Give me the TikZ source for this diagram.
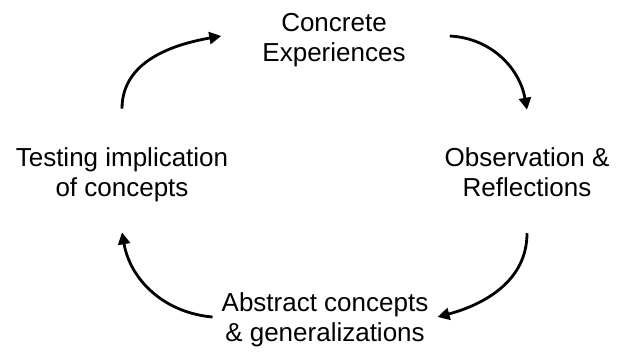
\documentclass[tikz,border=0pt]{standalone}
\usepackage{fontspec}
\setmainfont{Liberation Sans}
\usetikzlibrary{arrows.meta}

\begin{document}
\begin{tikzpicture}[x=1pt,y=1pt,
		phase/.style={align=center,inner sep=0pt,font=\fontsize{26}{30}\selectfont},
		cyc/.style={-{Triangle[length=12pt,width=12pt]},line width=2.8pt}]
		\useasboundingbox (0,0) rectangle (617,356);
		\node [phase] (conc) at (334,316) {Concrete\\Experiences};
		\node [phase] (obs) at (527,183.5) {Observation \&\\Reflections};
		\node [phase] (abs) at (325,36) {Abstract concepts\\\& generalizations};
		\node [phase] (test) at (122,181) {Testing implication\\of concepts};
		\draw[cyc] ([yshift=39pt]test.north) to [out=90,in=190] ([xshift=-41pt,yshift=4pt]conc.west);
		\draw[cyc] ([xshift=44pt,yshift=4pt]conc.east) to [out=-3,in=100] ([yshift=38pt]obs.north);
		\draw[cyc] ([yshift=-36pt]obs.south) to [out=-90,in=15] ([xshift=9pt,yshift=3pt]abs.east);
		\draw[cyc] ([xshift=-9pt,yshift=3pt]abs.west) to [out=175,in=-80] ([yshift=-30pt]test.south);
		\end{tikzpicture}
\end{document}
